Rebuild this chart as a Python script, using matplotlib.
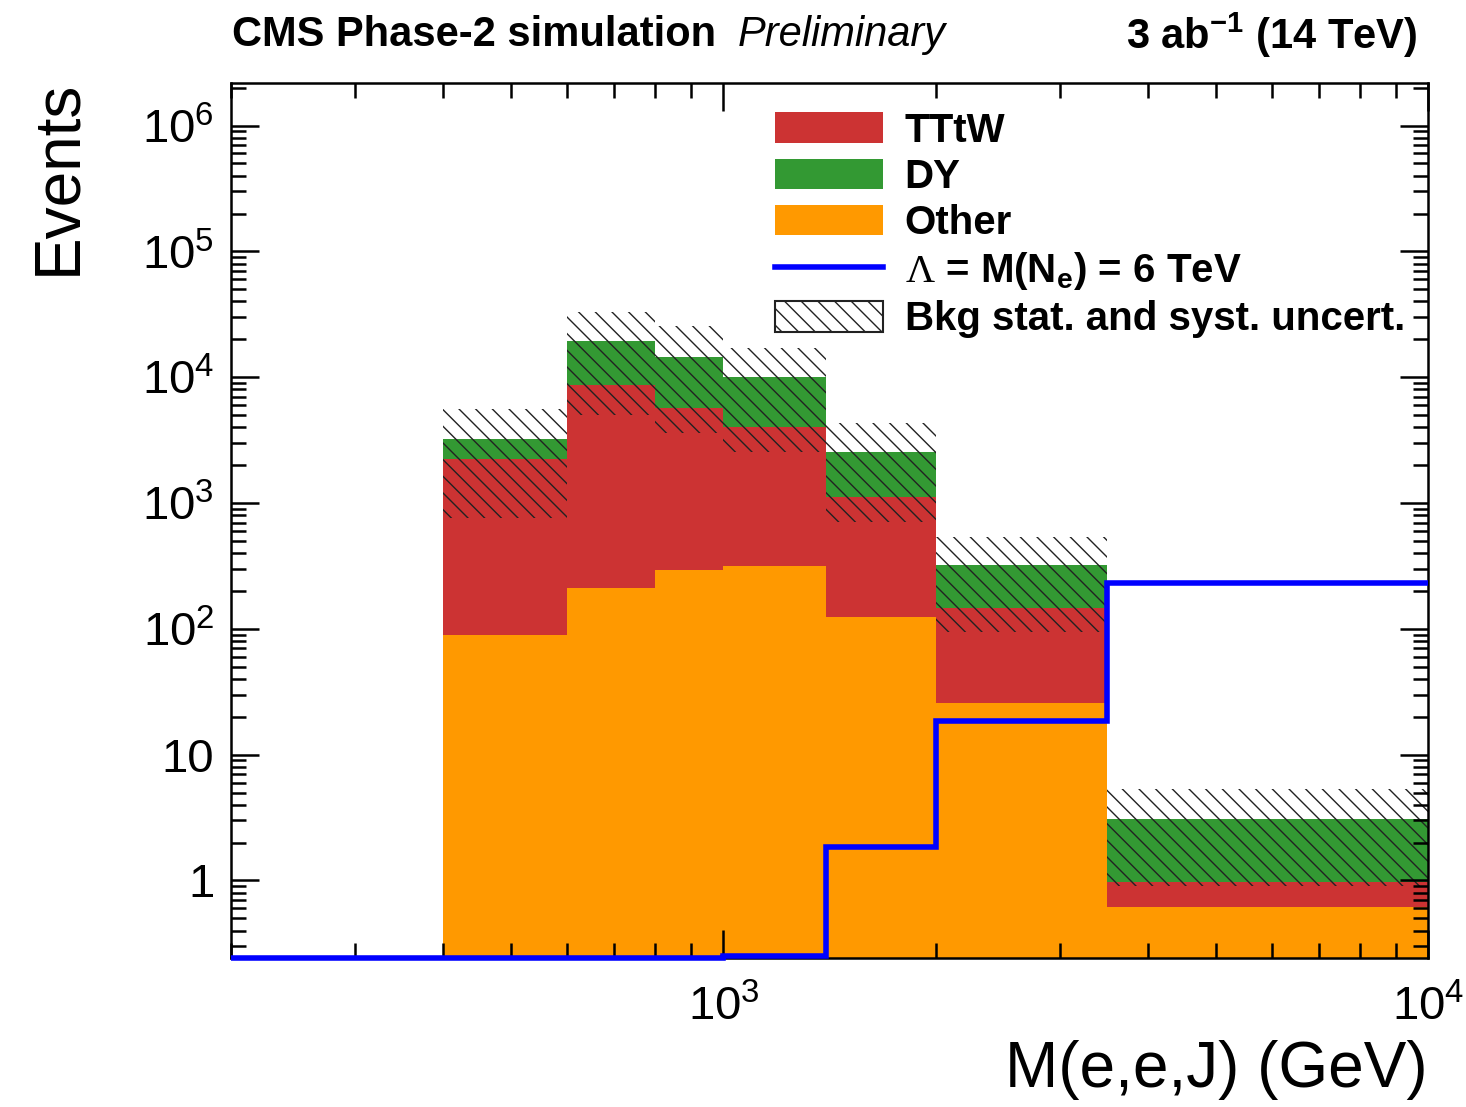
import numpy as np
import matplotlib
matplotlib.use('Agg')
import matplotlib.pyplot as plt
import matplotlib.patches as mpatches
from matplotlib.lines import Line2D
from matplotlib.ticker import FixedLocator, NullFormatter

plt.rcParams['font.family'] = ['Liberation Sans', 'DejaVu Sans']
plt.rcParams['mathtext.fontset'] = 'custom'
plt.rcParams['mathtext.rm'] = 'Liberation Sans'
plt.rcParams['mathtext.sf'] = 'Liberation Sans'
plt.rcParams['mathtext.it'] = 'Liberation Sans:italic'
plt.rcParams['mathtext.bf'] = 'Liberation Sans:bold'
plt.rcParams['mathtext.cal'] = 'Liberation Serif'
plt.rcParams['hatch.linewidth'] = 1.0

# bin edges in M(e,e,J) (GeV)
edges = [200, 400, 600, 800, 1000, 1400, 2000, 3500, 10000]
bkg_edges = edges[1:]   # background starts at 400 GeV

# stacked backgrounds (events per bin), bottom to top
other = [89, 211, 294, 316, 124.5, 25.8, 0.615]
tttw = [2154, 8479, 5406, 3714, 994.5, 120.7, 0.365]
dy = [993, 10760, 8820, 6040, 1429, 175.5, 2.10]

# uncertainty band (lower / upper edge)
unc_lo = [760, 5010, 3600, 2550, 706, 94.4, 0.91]
unc_hi = [5600, 33000, 25600, 17100, 4330, 538, 5.33]

# signal Lambda = M(N_e) = 6 TeV
signal = [0.242, 0.242, 0.242, 0.242, 0.25, 1.85, 18.5, 232]

c_tttw = '#cc3333'
c_dy = '#339933'
c_other = '#ff9900'

fig = plt.figure(figsize=(14.66, 11.07), dpi=100)
ax = fig.add_axes([231/1466, 1-958/1107, (1428-231)/1466, (958-83)/1107])
ax.set_xscale('log')
ax.set_yscale('log')

lefts = np.array(bkg_edges[:-1])
widths = np.diff(bkg_edges)
o = np.array(other)
t = np.array(tttw)
d = np.array(dy)
ax.bar(lefts, o, width=widths, bottom=1e-3, align='edge', color=c_other, lw=0)
ax.bar(lefts, t, width=widths, bottom=o, align='edge', color=c_tttw, lw=0)
ax.bar(lefts, d, width=widths, bottom=o + t, align='edge', color=c_dy, lw=0)
lo = np.array(unc_lo)
hi = np.array(unc_hi)
ax.bar(lefts, hi - lo, width=widths, bottom=lo, align='edge', fill=False,
       hatch='\\\\', edgecolor='#222222', lw=0)

ax.stairs(signal, edges, baseline=None, color='#0000ff', lw=4, clip_on=False, zorder=5)

ax.set_xlim(200, 10000)
ax.set_ylim(0.242, 2.18e6)

# ticks, ROOT style
ax.xaxis.set_major_locator(FixedLocator([1000, 10000]))
ax.set_xticklabels([r'$10^{3}$', r'$10^{4}$'])
xminor = [m * 10**e for e in (2, 3) for m in range(2, 10)]
ax.xaxis.set_minor_locator(FixedLocator(xminor))
ax.xaxis.set_minor_formatter(NullFormatter())
ax.yaxis.set_major_locator(FixedLocator([1, 10, 1e2, 1e3, 1e4, 1e5, 1e6]))
ax.set_yticklabels(['1', '10', r'$10^{2}$', r'$10^{3}$', r'$10^{4}$', r'$10^{5}$', r'$10^{6}$'])
yminor = [m * 10.0**e for e in range(-1, 7) for m in range(2, 10)]
ax.yaxis.set_minor_locator(FixedLocator(yminor))
ax.yaxis.set_minor_formatter(NullFormatter())
ax.tick_params(which='both', direction='in', top=True, right=True, width=1.8)
ax.tick_params(which='major', length=20, labelsize=34)
ax.tick_params(which='minor', length=11)
ax.tick_params(axis='y', which='major', pad=12)
ax.tick_params(axis='x', which='major', pad=20)
for s in ax.spines.values():
    s.set_linewidth(1.8)

fig.text(1428/1466, 1-1070/1107, 'M(e,e,J) (GeV)', ha='right', va='center', fontsize=46)
fig.text(58/1466, 1-80/1107, 'Events', rotation=90, ha='center', va='top', fontsize=46)

fig.text(232/1466, 1-35/1107, 'CMS Phase-2 simulation', ha='left', va='center',
         fontsize=30, fontweight='bold')
fig.text(738/1466, 1-35/1107, 'Preliminary', ha='left', va='center',
         fontsize=30, style='italic')
fig.text(1417/1466, 1-35/1107, r'3 ab$^{\mathbf{-1}}$ (14 TeV)', ha='right', va='center',
         fontsize=30, fontweight='bold')

handles = [
    mpatches.Patch(color=c_tttw, lw=0),
    mpatches.Patch(color=c_dy, lw=0),
    mpatches.Patch(color=c_other, lw=0),
    Line2D([], [], color='#0000ff', lw=4),
    mpatches.Patch(facecolor='white', edgecolor='#222222', hatch='\\\\', lw=1.5),
]
labels = ['TTtW', 'DY', 'Other', r'$\mathcal{\Lambda}$ = M(N$_{\mathbf{e}}$) = 6 TeV',
          'Bkg stat. and syst. uncert.']
leg = ax.legend(handles, labels, loc='upper left', bbox_to_anchor=(0.4545, 0.967),
                frameon=False, prop={'size': 29, 'weight': 'bold'},
                handlelength=2.67, handleheight=0.8, handletextpad=0.55,
                labelspacing=0.2, borderpad=0, borderaxespad=0)

fig.savefig('out.png', dpi=100)
